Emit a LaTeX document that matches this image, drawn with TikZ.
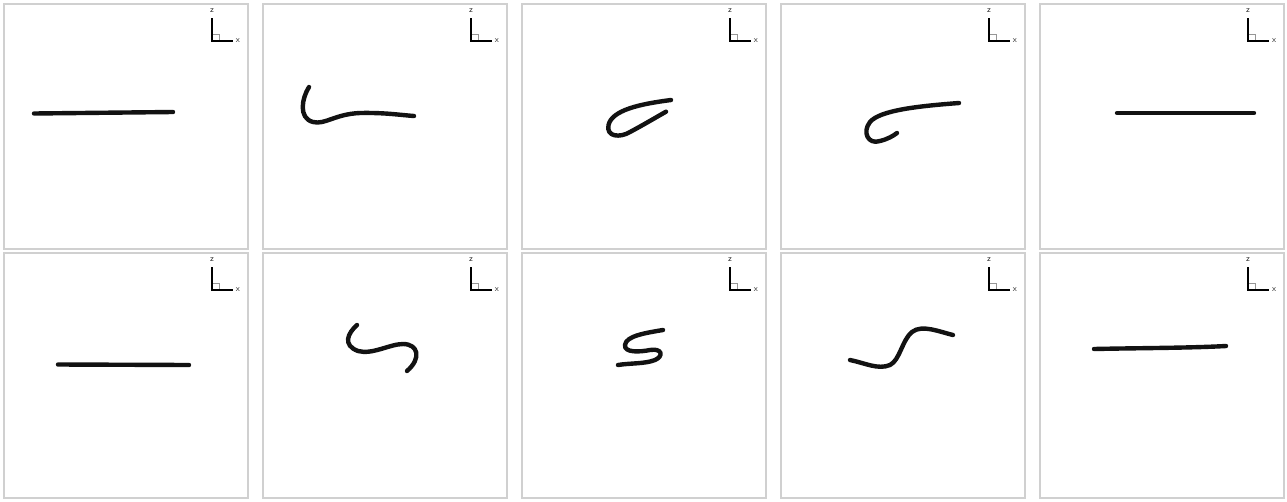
\documentclass[tikz,border=0pt]{standalone}
\usepackage{xcolor}
\definecolor{frame}{RGB}{208,208,208}
\definecolor{ink}{RGB}{18,18,18}
\definecolor{tick}{RGB}{150,150,150}
\usepackage{tikz}
\usetikzlibrary{calc}
\tikzset{
  panel/.style={draw=frame, line width=1.3pt, fill=white},
  wire/.style={draw=ink, line width=4.4pt, line cap=round, line join=round},
  axisline/.style={draw=black, line width=1.3pt},
  rightmark/.style={draw=tick, line width=0.6pt},
  axislabel/.style={font=\fontsize{8.5}{8.5}\selectfont\sffamily, text=black!85, inner sep=0pt},
}

\begin{document}
\begin{tikzpicture}[x=1pt,y=-1pt]
\useasboundingbox (0,0) rectangle (1287,501);

% frames with the z-x triad in the corner
\foreach \col in {0,...,4}{
  \foreach \row in {0,1}{
    \coordinate (p-\col-\row) at (4+259*\col, 4+249*\row);
    \draw[panel] (p-\col-\row) rectangle ++(244,245);
    \draw[rightmark] ($(p-\col-\row)+(208,37)$) rectangle ++(7,-7);
    \draw[axisline] ($(p-\col-\row)+(208,14)$) -- ++(0,23) -- ++(21,0);
    \node[axislabel] (z-\col-\row) at ($(p-\col-\row)+(208,7)$) {z};
    \node[axislabel] (x-\col-\row) at ($(p-\col-\row)+(234,37)$) {x};
  }
}

% upper row
\draw[wire] (34,113.5) -- (173,112);
\draw[wire] (309,87) .. controls (302,98) and (298,118) .. (313,122)
  .. controls (325,125) and (335,114) .. (360,113)
  .. controls (385,112.5) and (400,115) .. (414,116);
\draw[wire] (671,100) .. controls (640,104) and (612,110) .. (608.5,125)
  .. controls (606,137) and (620,138) .. (630,132)
  .. controls (645,124) and (660,115) .. (666,111.7);
\draw[wire] (959,103) .. controls (920,106) and (880,110) .. (870,122)
  .. controls (862,132) and (868,145) .. (880,141)
  .. controls (888,139) and (893,136) .. (897,133);
\draw[wire] (1117,113) -- (1254,113);

% lower row
\draw[wire] (58,364.5) -- (189,365);
\draw[wire] (357,325) .. controls (348,333) and (342,345) .. (358,351)
  .. controls (372,355) and (390,344) .. (403,344)
  .. controls (418,344) and (422,358) .. (407,371);
\draw[wire] (663,330) .. controls (645,333) and (626,336) .. (625,345)
  .. controls (624,353) and (640,352) .. (650,350)
  .. controls (662,348) and (664,356) .. (655,360)
  .. controls (645,364) and (630,363) .. (618,365);
\draw[wire] (850,360) .. controls (865,363) and (878,370) .. (890,365)
  .. controls (900,360) and (902,340) .. (912,332)
  .. controls (922,324) and (940,332) .. (953,335);
\draw[wire] (1094,349) .. controls (1140,348) and (1190,348) .. (1226,346);
\end{tikzpicture}
\end{document}
